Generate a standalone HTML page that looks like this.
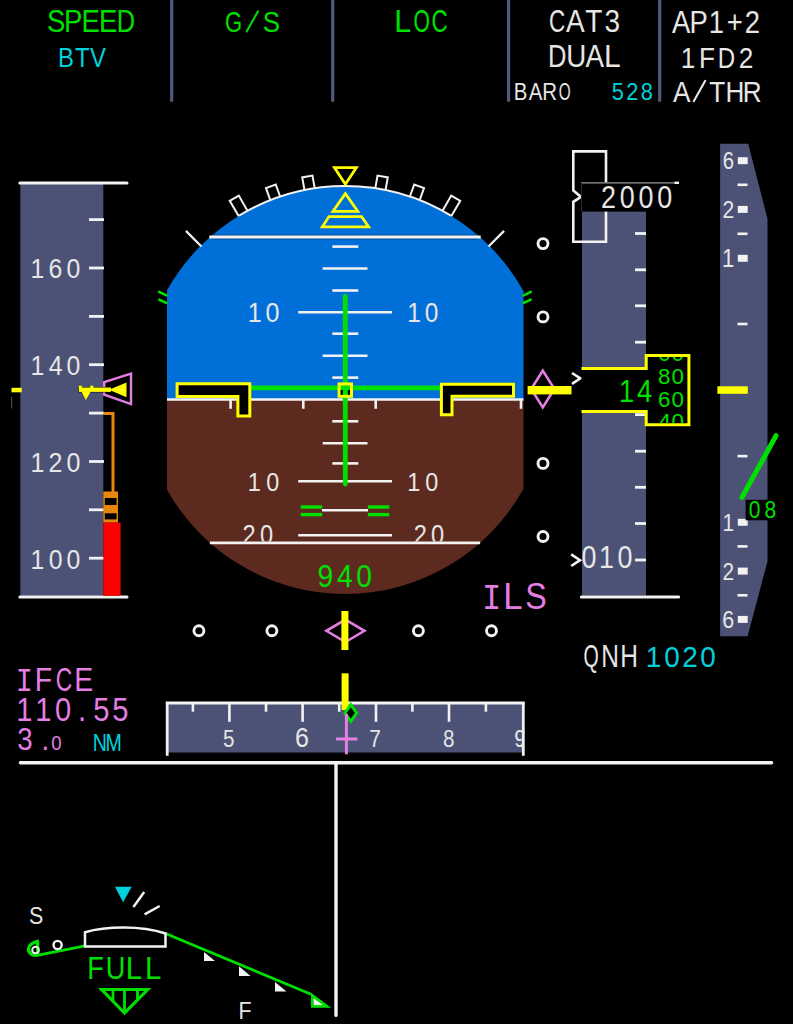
<!DOCTYPE html>
<html><head><meta charset="utf-8"><style>
html,body{margin:0;padding:0;background:#000;width:793px;height:1024px;overflow:hidden}
svg{display:block}

</style></head><body>
<svg width="793" height="1024" viewBox="0 0 793 1024">
<defs>
<clipPath id="att"><path d="M167,290.34 A204,204 0 0 1 523.5,291.24 L523.5,488.76 A204,204 0 0 1 167,489.66 Z"/></clipPath>
<clipPath id="clip20"><rect x="0" y="0" width="793" height="541.4"/></clipPath>
<clipPath id="clipdrum"><rect x="646" y="357.1" width="42" height="66.2"/></clipPath>
<clipPath id="clipscale"><rect x="167" y="690" width="356" height="70"/></clipPath>
</defs>
<line x1="171.7" y1="-2" x2="171.7" y2="100.5" stroke="#525a7c" stroke-width="3.2" stroke-linecap="round"/>
<line x1="332.7" y1="-2" x2="332.7" y2="100.5" stroke="#525a7c" stroke-width="3.2" stroke-linecap="round"/>
<line x1="508.6" y1="-2" x2="508.6" y2="100.5" stroke="#525a7c" stroke-width="3.2" stroke-linecap="round"/>
<line x1="659.7" y1="-2" x2="659.7" y2="100.5" stroke="#525a7c" stroke-width="3.2" stroke-linecap="round"/>
<rect x="20.3" y="183" width="83.00" height="412.80" fill="#4b5275"/>
<line x1="89" y1="219.6" x2="104" y2="219.6" stroke="#f2f2f2" stroke-width="2.8" stroke-linecap="butt"/>
<line x1="89" y1="268" x2="104" y2="268" stroke="#f2f2f2" stroke-width="2.8" stroke-linecap="butt"/>
<line x1="89" y1="316.4" x2="104" y2="316.4" stroke="#f2f2f2" stroke-width="2.8" stroke-linecap="butt"/>
<line x1="89" y1="364.7" x2="104" y2="364.7" stroke="#f2f2f2" stroke-width="2.8" stroke-linecap="butt"/>
<line x1="89" y1="413.1" x2="104" y2="413.1" stroke="#f2f2f2" stroke-width="2.8" stroke-linecap="butt"/>
<line x1="89" y1="461.5" x2="104" y2="461.5" stroke="#f2f2f2" stroke-width="2.8" stroke-linecap="butt"/>
<line x1="89" y1="509.8" x2="104" y2="509.8" stroke="#f2f2f2" stroke-width="2.8" stroke-linecap="butt"/>
<line x1="89" y1="558.2" x2="104" y2="558.2" stroke="#f2f2f2" stroke-width="2.8" stroke-linecap="butt"/>
<line x1="19.8" y1="183" x2="127" y2="183" stroke="#f2f2f2" stroke-width="3" stroke-linecap="round"/>
<line x1="19.8" y1="597.1" x2="127" y2="597.1" stroke="#f2f2f2" stroke-width="3" stroke-linecap="round"/>
<polyline points="103.3,413.6 113,413.6 113,492" fill="none" stroke="#e8860a" stroke-width="3"/>
<rect x="103.3" y="491.5" width="14.70" height="31.10" fill="#e8860a"/>
<rect x="104.8" y="498" width="11.80" height="7.00" fill="#000"/>
<rect x="104.8" y="513.3" width="11.80" height="6.10" fill="#000"/>
<rect x="103.3" y="522.6" width="17.30" height="73.20" fill="#ff0000"/>
<rect x="11.5" y="387.8" width="10.20" height="4.50" fill="#ffff00"/>
<line x1="11.7" y1="397" x2="11.7" y2="408.5" stroke="#555" stroke-width="1" stroke-linecap="butt"/>
<polygon points="131.00,373.60 104.20,382.20 104.20,394.60 131.00,404.10" fill="none" stroke="#e47ee4" stroke-width="2.4" stroke-linejoin="miter"/>
<rect x="78.3" y="387.0" width="32.20" height="5.40" fill="#000"/>
<rect x="78.8" y="385.7" width="3.10" height="2.30" fill="#ffff00"/>
<rect x="90.3" y="385.7" width="3.10" height="2.30" fill="#ffff00"/>
<rect x="78.8" y="387.5" width="32.20" height="4.40" fill="#ffff00"/>
<polygon points="109.00,389.70 126.50,382.60 126.50,397.20" fill="#ffff00" stroke="none" stroke-width="2.6" stroke-linejoin="miter"/>
<polygon points="81.50,391.50 90.70,391.50 85.90,399.90" fill="#ffff00" stroke="none" stroke-width="2.6" stroke-linejoin="miter"/>
<g clip-path="url(#att)">
<rect x="160" y="150" width="370.00" height="249.50" fill="#0070d8"/>
<rect x="160" y="399.5" width="370.00" height="220.50" fill="#5c2a1e"/>
</g>
<path d="M239.02,215.69 A204,204 0 0 1 450.98,215.69" fill="none" stroke="#f2f2f2" stroke-width="2"/>
<line x1="212.0666831357059" y1="237" x2="477.9333168642941" y2="237" stroke="#004a94" stroke-width="4.8" stroke-linecap="butt"/>
<line x1="209.26668313570588" y1="237" x2="480.7333168642941" y2="237" stroke="#f2f2f2" stroke-width="2.8" stroke-linecap="butt"/>
<line x1="209.8402426755656" y1="542.8" x2="480.1597573244344" y2="542.8" stroke="#f2f2f2" stroke-width="2.8" stroke-linecap="butt"/>
<line x1="167" y1="399.5" x2="523.5" y2="399.5" stroke="#f2f2f2" stroke-width="2.6" stroke-linecap="butt"/>
<line x1="230.6" y1="399.5" x2="230.6" y2="408.8" stroke="#f2f2f2" stroke-width="2.6" stroke-linecap="butt"/>
<line x1="303.3" y1="399.5" x2="303.3" y2="408.8" stroke="#f2f2f2" stroke-width="2.6" stroke-linecap="butt"/>
<line x1="375.7" y1="399.5" x2="375.7" y2="408.8" stroke="#f2f2f2" stroke-width="2.6" stroke-linecap="butt"/>
<line x1="448.3" y1="399.5" x2="448.3" y2="408.8" stroke="#f2f2f2" stroke-width="2.6" stroke-linecap="butt"/>
<line x1="521" y1="399.5" x2="521" y2="408.8" stroke="#f2f2f2" stroke-width="2.6" stroke-linecap="butt"/>
<line x1="332.3" y1="246.6" x2="358.3" y2="246.6" stroke="#f2f2f2" stroke-width="2.6" stroke-linecap="butt"/>
<line x1="322.7" y1="268.5" x2="367.5" y2="268.5" stroke="#f2f2f2" stroke-width="2.6" stroke-linecap="butt"/>
<line x1="332.3" y1="290.5" x2="358.3" y2="290.5" stroke="#f2f2f2" stroke-width="2.6" stroke-linecap="butt"/>
<line x1="298.2" y1="312.3" x2="392" y2="312.3" stroke="#f2f2f2" stroke-width="2.6" stroke-linecap="butt"/>
<line x1="332.3" y1="333.7" x2="358.3" y2="333.7" stroke="#f2f2f2" stroke-width="2.6" stroke-linecap="butt"/>
<line x1="322.7" y1="355.7" x2="367.5" y2="355.7" stroke="#f2f2f2" stroke-width="2.6" stroke-linecap="butt"/>
<line x1="332.3" y1="377.6" x2="358.3" y2="377.6" stroke="#f2f2f2" stroke-width="2.6" stroke-linecap="butt"/>
<line x1="332.3" y1="421.3" x2="358.3" y2="421.3" stroke="#f2f2f2" stroke-width="2.6" stroke-linecap="butt"/>
<line x1="322.7" y1="443.2" x2="367.5" y2="443.2" stroke="#f2f2f2" stroke-width="2.6" stroke-linecap="butt"/>
<line x1="332.3" y1="463.4" x2="358.3" y2="463.4" stroke="#f2f2f2" stroke-width="2.6" stroke-linecap="butt"/>
<line x1="298.2" y1="481.3" x2="392" y2="481.3" stroke="#f2f2f2" stroke-width="2.6" stroke-linecap="butt"/>
<line x1="322" y1="510.3" x2="368" y2="510.3" stroke="#f2f2f2" stroke-width="2.6" stroke-linecap="butt"/>
<line x1="298.2" y1="535.3" x2="392" y2="535.3" stroke="#f2f2f2" stroke-width="2.6" stroke-linecap="butt"/>
<line x1="345.3" y1="296.5" x2="345.3" y2="484" stroke="#00e000" stroke-width="4.8" stroke-linecap="round"/>
<line x1="251" y1="387.8" x2="440" y2="387.8" stroke="#00e000" stroke-width="4.8" stroke-linecap="butt"/>
<line x1="300.7" y1="507" x2="322.2" y2="507" stroke="#00e000" stroke-width="3.4" stroke-linecap="butt"/>
<line x1="367.8" y1="507" x2="389.3" y2="507" stroke="#00e000" stroke-width="3.4" stroke-linecap="butt"/>
<line x1="300.7" y1="514.6" x2="322.2" y2="514.6" stroke="#00e000" stroke-width="3.4" stroke-linecap="butt"/>
<line x1="367.8" y1="514.6" x2="389.3" y2="514.6" stroke="#00e000" stroke-width="3.4" stroke-linecap="butt"/>
<polygon points="177.10,383.70 249.80,383.70 249.80,416.00 237.90,416.00 237.90,396.60 177.10,396.60" fill="#000" stroke="#ffff00" stroke-width="3" stroke-linejoin="miter"/>
<polygon points="441.40,384.20 513.50,384.20 513.50,396.20 452.00,396.20 452.00,414.70 441.40,414.70" fill="#000" stroke="#ffff00" stroke-width="3" stroke-linejoin="miter"/>
<rect x="339.1" y="383.9" width="12.4" height="12.4" fill="#00e000" stroke="#ffff00" stroke-width="3"/>
<rect x="340.6" y="390" width="2.20" height="4.80" fill="#000"/>
<rect x="347.8" y="390" width="2.20" height="4.80" fill="#000"/>
<polyline points="238.75,216.36 229.75,200.78 238.75,195.58 247.75,211.16" fill="none" stroke="#f2f2f2" stroke-width="2"/>
<polyline points="270.51,200.55 265.96,188.05 275.74,184.50 280.29,196.99" fill="none" stroke="#f2f2f2" stroke-width="2"/>
<polyline points="304.54,190.49 302.23,177.40 312.47,175.59 314.78,188.69" fill="none" stroke="#f2f2f2" stroke-width="2"/>
<polyline points="375.22,188.69 377.53,175.59 387.77,177.40 385.46,190.49" fill="none" stroke="#f2f2f2" stroke-width="2"/>
<polyline points="409.71,196.99 414.26,184.50 424.04,188.05 419.49,200.55" fill="none" stroke="#f2f2f2" stroke-width="2"/>
<polyline points="442.25,211.16 451.25,195.58 460.25,200.78 451.25,216.36" fill="none" stroke="#f2f2f2" stroke-width="2"/>
<line x1="201.45732341913086" y1="246.45732341913083" x2="185.90097423302683" y2="230.9009742330268" stroke="#f2f2f2" stroke-width="2.2" stroke-linecap="butt"/>
<line x1="488.54267658086917" y1="246.45732341913083" x2="504.09902576697317" y2="230.9009742330268" stroke="#f2f2f2" stroke-width="2.2" stroke-linecap="butt"/>
<g stroke="#00e000" stroke-width="2.6" stroke-linecap="round">
<line x1="159.2" y1="291.9" x2="166.3" y2="295.3"/><line x1="159.4" y1="299.7" x2="166.3" y2="302.9"/>
<line x1="530.8" y1="291.9" x2="523.7" y2="295.3"/><line x1="530.6" y1="299.7" x2="523.7" y2="302.9"/>
</g>
<polygon points="334.50,167.70 356.30,167.70 345.40,184.30" fill="none" stroke="#ffff00" stroke-width="2.8" stroke-linejoin="miter"/>
<polygon points="345.40,193.60 333.00,211.30 357.80,211.30" fill="none" stroke="#ffff00" stroke-width="2.8" stroke-linejoin="miter"/>
<polygon points="329.00,216.60 361.60,216.60 368.60,226.80 322.30,226.80" fill="none" stroke="#ffff00" stroke-width="2.8" stroke-linejoin="miter"/>
<circle cx="543" cy="243.6" r="5.0" fill="none" stroke="#f2f2f2" stroke-width="2.9"/>
<circle cx="543" cy="316.9" r="5.0" fill="none" stroke="#f2f2f2" stroke-width="2.9"/>
<circle cx="543" cy="463.4" r="5.0" fill="none" stroke="#f2f2f2" stroke-width="2.9"/>
<circle cx="543" cy="536.5" r="5.0" fill="none" stroke="#f2f2f2" stroke-width="2.9"/>
<polygon points="542.80,370.60 554.40,389.00 542.80,407.40 531.20,389.00" fill="none" stroke="#e47ee4" stroke-width="2.6" stroke-linejoin="miter"/>
<rect x="527.6" y="386" width="43.90" height="8.40" fill="#ffff00"/>
<polyline points="572,373 580.3,378.3 572,383.8" fill="none" stroke="#f2f2f2" stroke-width="2.6"/>
<circle cx="198.9" cy="630.8" r="5.0" fill="none" stroke="#f2f2f2" stroke-width="2.9"/>
<circle cx="271.9" cy="630.8" r="5.0" fill="none" stroke="#f2f2f2" stroke-width="2.9"/>
<circle cx="418.4" cy="630.8" r="5.0" fill="none" stroke="#f2f2f2" stroke-width="2.9"/>
<circle cx="491.5" cy="630.8" r="5.0" fill="none" stroke="#f2f2f2" stroke-width="2.9"/>
<polygon points="345.40,619.60 364.40,630.80 345.40,642.00 326.40,630.80" fill="none" stroke="#e47ee4" stroke-width="2.6" stroke-linejoin="miter"/>
<rect x="341.4" y="611" width="7.00" height="39.00" fill="#ffff00"/>
<rect x="582" y="211.5" width="64.00" height="384.10" fill="#4b5275"/>
<line x1="635" y1="233.5" x2="646" y2="233.5" stroke="#f2f2f2" stroke-width="2.8" stroke-linecap="butt"/>
<line x1="635" y1="269.8" x2="646" y2="269.8" stroke="#f2f2f2" stroke-width="2.8" stroke-linecap="butt"/>
<line x1="635" y1="305.8" x2="646" y2="305.8" stroke="#f2f2f2" stroke-width="2.8" stroke-linecap="butt"/>
<line x1="635" y1="342.2" x2="646" y2="342.2" stroke="#f2f2f2" stroke-width="2.8" stroke-linecap="butt"/>
<line x1="635" y1="378.4" x2="646" y2="378.4" stroke="#f2f2f2" stroke-width="2.8" stroke-linecap="butt"/>
<line x1="635" y1="414.6" x2="646" y2="414.6" stroke="#f2f2f2" stroke-width="2.8" stroke-linecap="butt"/>
<line x1="635" y1="451.2" x2="646" y2="451.2" stroke="#f2f2f2" stroke-width="2.8" stroke-linecap="butt"/>
<line x1="635" y1="487.3" x2="646" y2="487.3" stroke="#f2f2f2" stroke-width="2.8" stroke-linecap="butt"/>
<line x1="635" y1="523.5" x2="646" y2="523.5" stroke="#f2f2f2" stroke-width="2.8" stroke-linecap="butt"/>
<line x1="635" y1="560" x2="646" y2="560" stroke="#f2f2f2" stroke-width="2.8" stroke-linecap="butt"/>
<path d="M606,182.5 V151.4 H573.3 V190.5 L581,196.9 L573.3,201.8 V241.8 H606 V211.5" fill="none" stroke="#f2f2f2" stroke-width="2.6"/>
<rect x="581" y="182.8" width="98.00" height="28.50" fill="#000"/>
<line x1="581" y1="182.8" x2="676" y2="182.8" stroke="#9a9a9a" stroke-width="1.2" stroke-linecap="butt"/>
<rect x="674.5" y="181.6" width="4.50" height="2.40" fill="#f2f2f2"/>
<line x1="581.4" y1="183" x2="581.4" y2="211" stroke="#2a2a2a" stroke-width="1" stroke-linecap="butt"/>
<line x1="581.3" y1="597.1" x2="678.7" y2="597.1" stroke="#f2f2f2" stroke-width="3" stroke-linecap="round"/>
<polyline points="571.2,554.4 580,560.2 571.2,566" fill="none" stroke="#f2f2f2" stroke-width="2.6"/>
<path d="M581.5,368.4 H646.2 V355.6 H688.9 V424.8 H646.2 V411.6 H581.5 Z" fill="#000" stroke="none"/>
<path d="M581.5,368.4 H646.2 V355.6 H688.9 V424.8 H646.2 V411.6 H581.5" fill="none" stroke="#ffff00" stroke-width="3"/>
<polygon points="720.10,143.80 748.20,143.80 767.50,218.80 767.50,561.40 747.60,636.30 720.10,636.30" fill="#4b5275" stroke="none" stroke-width="2.6" stroke-linejoin="miter"/>
<rect x="737.8" y="157.2" width="9.90" height="7.00" fill="#f2f2f2"/>
<rect x="737.8" y="205.9" width="9.90" height="7.00" fill="#f2f2f2"/>
<rect x="737.8" y="254.8" width="9.90" height="7.00" fill="#f2f2f2"/>
<rect x="737.8" y="518.8" width="9.90" height="7.00" fill="#f2f2f2"/>
<rect x="737.8" y="567.6" width="9.90" height="7.00" fill="#f2f2f2"/>
<rect x="737.8" y="615.9" width="9.90" height="7.00" fill="#f2f2f2"/>
<line x1="737.5" y1="184.8" x2="747.5" y2="184.8" stroke="#f2f2f2" stroke-width="2.6" stroke-linecap="butt"/>
<line x1="737.5" y1="233.8" x2="747.5" y2="233.8" stroke="#f2f2f2" stroke-width="2.6" stroke-linecap="butt"/>
<line x1="737.5" y1="324" x2="747.5" y2="324" stroke="#f2f2f2" stroke-width="2.6" stroke-linecap="butt"/>
<line x1="737.5" y1="456.1" x2="747.5" y2="456.1" stroke="#f2f2f2" stroke-width="2.6" stroke-linecap="butt"/>
<line x1="737.5" y1="546.4" x2="747.5" y2="546.4" stroke="#f2f2f2" stroke-width="2.6" stroke-linecap="butt"/>
<line x1="737.5" y1="595.3" x2="747.5" y2="595.3" stroke="#f2f2f2" stroke-width="2.6" stroke-linecap="butt"/>
<rect x="717.4" y="386.3" width="30.40" height="7.50" fill="#ffff00"/>
<line x1="776" y1="435.7" x2="741.9" y2="497.5" stroke="#00e000" stroke-width="5" stroke-linecap="round"/>
<rect x="745.6" y="499.8" width="33.40" height="20.50" fill="#000"/>
<rect x="167.2" y="703" width="356.10" height="49.50" fill="#4b5275"/>
<line x1="165.8" y1="703" x2="524.7" y2="703" stroke="#f2f2f2" stroke-width="2.8" stroke-linecap="butt"/>
<line x1="167.2" y1="703" x2="167.2" y2="755.8" stroke="#f2f2f2" stroke-width="2.8" stroke-linecap="butt"/>
<line x1="523.3" y1="703" x2="523.3" y2="755.8" stroke="#f2f2f2" stroke-width="2.8" stroke-linecap="butt"/>
<line x1="192.9" y1="703" x2="192.9" y2="711.7" stroke="#f2f2f2" stroke-width="2.6" stroke-linecap="butt"/>
<line x1="229.4" y1="703" x2="229.4" y2="721.8" stroke="#f2f2f2" stroke-width="2.6" stroke-linecap="butt"/>
<line x1="266" y1="703" x2="266" y2="711.7" stroke="#f2f2f2" stroke-width="2.6" stroke-linecap="butt"/>
<line x1="302.6" y1="703" x2="302.6" y2="721.8" stroke="#f2f2f2" stroke-width="2.6" stroke-linecap="butt"/>
<line x1="339.2" y1="703" x2="339.2" y2="711.7" stroke="#f2f2f2" stroke-width="2.6" stroke-linecap="butt"/>
<line x1="376" y1="703" x2="376" y2="721.8" stroke="#f2f2f2" stroke-width="2.6" stroke-linecap="butt"/>
<line x1="412.4" y1="703" x2="412.4" y2="711.7" stroke="#f2f2f2" stroke-width="2.6" stroke-linecap="butt"/>
<line x1="449" y1="703" x2="449" y2="721.8" stroke="#f2f2f2" stroke-width="2.6" stroke-linecap="butt"/>
<line x1="485.9" y1="703" x2="485.9" y2="711.7" stroke="#f2f2f2" stroke-width="2.6" stroke-linecap="butt"/>
<rect x="341.6" y="673.3" width="7.00" height="36.70" fill="#ffff00"/>
<polygon points="350.80,704.60 356.60,713.00 350.80,721.40 345.00,713.00" fill="#000" stroke="#00e000" stroke-width="3" stroke-linejoin="miter"/>
<line x1="346.4" y1="714" x2="346.4" y2="754.3" stroke="#e47ee4" stroke-width="3" stroke-linecap="butt"/>
<line x1="336" y1="739" x2="357.4" y2="739" stroke="#e47ee4" stroke-width="3" stroke-linecap="butt"/>
<line x1="20.4" y1="762.8" x2="771.6" y2="762.8" stroke="#f2f2f2" stroke-width="3.4" stroke-linecap="round"/>
<line x1="336" y1="762.8" x2="336" y2="1015.4" stroke="#f2f2f2" stroke-width="3.4" stroke-linecap="round"/>
<line x1="133.4" y1="907.1" x2="144.2" y2="892" stroke="#f2f2f2" stroke-width="2.5" stroke-linecap="butt"/>
<line x1="144.6" y1="914.3" x2="159.7" y2="906" stroke="#f2f2f2" stroke-width="2.5" stroke-linecap="butt"/>
<polygon points="115.00,886.80 131.70,886.80 123.10,902.30" fill="#00d2dc" stroke="none" stroke-width="2.6" stroke-linejoin="miter"/>
<path d="M35.8,955.6 L85,945.8 M165.5,933.5 L311,994.3" fill="none" stroke="#00e000" stroke-width="2.8"/>
<path d="M85,946.6 V932.2 C105,926.5 140,925 165.5,933.5 V946.6 Z" fill="#000" stroke="#f2f2f2" stroke-width="2.5"/>
<path d="M36,955.3 C31,955.5 28,952 28.6,948.3 C29.3,944.5 33,942.5 37.5,941.3 L37.8,954.9" fill="none" stroke="#00e000" stroke-width="3.4" stroke-linejoin="round"/>
<circle cx="35.5" cy="950" r="3.3" fill="none" stroke="#f2f2f2" stroke-width="2"/>
<circle cx="57.6" cy="945" r="4.1" fill="none" stroke="#f2f2f2" stroke-width="2.4"/>
<polygon points="204.00,952.00 204.00,961.00 215.00,961.00" fill="#f2f2f2" stroke="none" stroke-width="2.6" stroke-linejoin="miter"/>
<polygon points="239.00,966.30 239.00,975.90 250.60,975.90" fill="#f2f2f2" stroke="none" stroke-width="2.6" stroke-linejoin="miter"/>
<polygon points="275.00,981.90 275.00,991.50 286.50,991.50" fill="#f2f2f2" stroke="none" stroke-width="2.6" stroke-linejoin="miter"/>
<polygon points="312.40,995.50 312.40,1006.30 327.00,1006.30" fill="#f2f2f2" stroke="#00e000" stroke-width="2.8" stroke-linejoin="miter"/>
<polygon points="101.50,989.40 147.80,989.40 124.50,1013.00" fill="none" stroke="#00e000" stroke-width="3" stroke-linejoin="miter"/>
<path d="M113,989.4 V1001 M124.5,989.4 V1013 M137.5,989.4 V1001" stroke="#00e000" stroke-width="2.8"/>
<g font-family="Liberation Sans" font-size="31.25" fill="#00e000"><text transform="translate(46.90,32.19) scale(0.880,1)">S</text><text transform="translate(64.06,32.19) scale(0.880,1)">P</text><text transform="translate(81.50,32.19) scale(0.880,1)">E</text><text transform="translate(99.07,32.19) scale(0.880,1)">E</text><text transform="translate(116.80,32.19) scale(0.810,1)">D</text></g>
<g font-family="Liberation Sans" font-size="27.14" fill="#00d2dc"><text transform="translate(58.09,66.73) scale(0.880,1)">B</text><text transform="translate(74.94,66.73) scale(0.880,1)">T</text><text transform="translate(90.00,66.73) scale(0.880,1)">V</text></g>
<g font-family="Liberation Sans" font-size="29.46" fill="#00e000"><text transform="translate(224.90,32.01) scale(0.748,1)">G</text><line x1="246.64" y1="31.50" x2="257.98" y2="11.30" stroke="#00e000" stroke-width="2.1" stroke-linecap="round"/><text transform="translate(262.67,32.01) scale(0.880,1)">S</text></g>
<g font-family="Liberation Sans" font-size="31.97" fill="#00e000"><text transform="translate(394.17,32.38) scale(0.950,1)">L</text><text transform="translate(413.49,32.38) scale(0.660,1)">O</text><text transform="translate(431.47,32.38) scale(0.704,1)">C</text></g>
<g font-family="Liberation Sans" font-size="31.83" fill="#e6e6e6"><text transform="translate(548.88,32.48) scale(0.704,1)">C</text><text transform="translate(566.11,32.48) scale(0.880,1)">A</text><text transform="translate(585.27,32.48) scale(0.880,1)">T</text><text transform="translate(604.43,32.48) scale(0.880,1)">3</text></g>
<g font-family="Liberation Sans" font-size="31.57" fill="#e6e6e6"><text transform="translate(547.96,67.08) scale(0.810,1)">D</text><text transform="translate(566.19,67.08) scale(0.880,1)">U</text><text transform="translate(585.41,67.08) scale(0.880,1)">A</text><text transform="translate(604.10,67.08) scale(0.950,1)">L</text></g>
<g font-family="Liberation Sans" font-size="23.24" fill="#e6e6e6"><text transform="translate(513.86,100.27) scale(0.880,1)">B</text><text transform="translate(528.73,100.27) scale(0.880,1)">A</text><text transform="translate(542.37,100.27) scale(0.880,1)">R</text><text transform="translate(558.80,100.27) scale(0.660,1)">O</text></g>
<g font-family="Liberation Sans" font-size="24.79" fill="#00d2dc"><text transform="translate(611.83,100.35) scale(0.880,1)">5</text><text transform="translate(626.24,100.35) scale(0.880,1)">2</text><text transform="translate(640.66,100.35) scale(0.880,1)">8</text></g>
<g font-family="Liberation Sans" font-size="31.14" fill="#e6e6e6"><text transform="translate(672.00,32.50) scale(0.880,1)">A</text><text transform="translate(689.39,32.50) scale(0.880,1)">P</text><text transform="translate(708.84,32.50) scale(0.880,1)">1</text><text transform="translate(726.65,32.50) scale(0.880,1)">+</text><text transform="translate(744.72,32.50) scale(0.880,1)">2</text></g>
<g font-family="Liberation Sans" font-size="29.71" fill="#e6e6e6"><text transform="translate(680.87,68.00) scale(0.880,1)">1</text><text transform="translate(699.00,68.00) scale(0.880,1)">F</text><text transform="translate(717.67,68.00) scale(0.810,1)">D</text><text transform="translate(738.66,68.00) scale(0.880,1)">2</text></g>
<g font-family="Liberation Sans" font-size="29.73" fill="#e6e6e6"><text transform="translate(673.00,101.70) scale(0.880,1)">A</text><line x1="693.77" y1="101.20" x2="705.21" y2="80.80" stroke="#e6e6e6" stroke-width="2.1" stroke-linecap="round"/><text transform="translate(709.23,101.70) scale(0.880,1)">T</text><text transform="translate(725.38,101.70) scale(0.880,1)">H</text><text transform="translate(742.71,101.70) scale(0.880,1)">R</text></g>
<g font-family="Liberation Sans" font-size="28.17" fill="#e6e6e6"><text transform="translate(30.56,277.72) scale(0.880,1)">1</text><text transform="translate(48.53,277.72) scale(0.880,1)">6</text><text transform="translate(66.61,277.72) scale(0.880,1)">0</text></g>
<g font-family="Liberation Sans" font-size="28.17" fill="#e6e6e6"><text transform="translate(30.56,374.72) scale(0.880,1)">1</text><text transform="translate(48.77,374.72) scale(0.880,1)">4</text><text transform="translate(66.61,374.72) scale(0.880,1)">0</text></g>
<g font-family="Liberation Sans" font-size="28.45" fill="#e6e6e6"><text transform="translate(30.55,471.72) scale(0.880,1)">1</text><text transform="translate(48.58,471.72) scale(0.880,1)">2</text><text transform="translate(66.48,471.72) scale(0.880,1)">0</text></g>
<g font-family="Liberation Sans" font-size="28.17" fill="#e6e6e6"><text transform="translate(30.56,568.72) scale(0.880,1)">1</text><text transform="translate(48.77,568.72) scale(0.880,1)">0</text><text transform="translate(66.61,568.72) scale(0.880,1)">0</text></g>
<g font-family="Liberation Sans" font-size="28.45" fill="#e6e6e6"><text transform="translate(247.75,321.82) scale(0.880,1)">1</text><text transform="translate(265.48,321.82) scale(0.880,1)">0</text></g>
<g font-family="Liberation Sans" font-size="27.75" fill="#e6e6e6"><text transform="translate(407.29,322.12) scale(0.880,1)">1</text><text transform="translate(424.80,322.12) scale(0.880,1)">0</text></g>
<g font-family="Liberation Sans" font-size="26.62" fill="#e6e6e6"><text transform="translate(247.86,491.13) scale(0.880,1)">1</text><text transform="translate(266.32,491.13) scale(0.880,1)">0</text></g>
<g font-family="Liberation Sans" font-size="26.62" fill="#e6e6e6"><text transform="translate(407.36,491.13) scale(0.880,1)">1</text><text transform="translate(425.32,491.13) scale(0.880,1)">0</text></g>
<g clip-path="url(#clip20)" font-family="Liberation Sans" font-size="26.90" fill="#e6e6e6"><text transform="translate(242.52,544.23) scale(0.880,1)">2</text><text transform="translate(259.89,544.23) scale(0.880,1)">0</text></g>
<g clip-path="url(#clip20)" font-family="Liberation Sans" font-size="26.90" fill="#e6e6e6"><text transform="translate(413.82,544.23) scale(0.880,1)">2</text><text transform="translate(431.09,544.23) scale(0.880,1)">0</text></g>
<g font-family="Liberation Sans" font-size="32.11" fill="#00e000"><text transform="translate(317.47,587.08) scale(0.880,1)">9</text><text transform="translate(336.89,587.08) scale(0.880,1)">4</text><text transform="translate(356.31,587.08) scale(0.880,1)">0</text></g>
<g font-family="Liberation Sans" font-size="36.53" fill="#e47ee4"><text transform="translate(481.91,609.33) scale(0.880,1)" font-family="Liberation Mono">I</text><text transform="translate(503.20,609.33) scale(0.950,1)">L</text><text transform="translate(525.25,609.33) scale(0.880,1)">S</text></g>
<g font-family="Liberation Sans" font-size="30.56" fill="#e6e6e6"><text transform="translate(601.06,207.69) scale(0.880,1)">2</text><text transform="translate(619.86,207.69) scale(0.880,1)">0</text><text transform="translate(638.54,207.69) scale(0.880,1)">0</text><text transform="translate(657.21,207.69) scale(0.880,1)">0</text></g>
<g font-family="Liberation Sans" font-size="31.00" fill="#00e000"><text transform="translate(618.89,401.50) scale(0.880,1)">1</text><text transform="translate(637.04,401.50) scale(0.880,1)">4</text></g>
<g clip-path="url(#clipdrum)" font-family="Liberation Sans" font-size="21.27" fill="#00e000"><text transform="translate(658.33,361.09) scale(1.050,1)">0</text><text transform="translate(671.49,361.09) scale(1.050,1)">0</text></g>
<g clip-path="url(#clipdrum)" font-family="Liberation Sans" font-size="21.27" fill="#00e000"><text transform="translate(658.11,384.39) scale(1.050,1)">8</text><text transform="translate(671.49,384.39) scale(1.050,1)">0</text></g>
<g clip-path="url(#clipdrum)" font-family="Liberation Sans" font-size="21.27" fill="#00e000"><text transform="translate(657.88,406.99) scale(1.050,1)">6</text><text transform="translate(671.49,406.99) scale(1.050,1)">0</text></g>
<g clip-path="url(#clipdrum)" font-family="Liberation Sans" font-size="21.27" fill="#00e000"><text transform="translate(658.55,429.49) scale(1.050,1)">4</text><text transform="translate(671.49,429.49) scale(1.050,1)">0</text></g>
<g font-family="Liberation Sans" font-size="30.56" fill="#e6e6e6"><text transform="translate(581.39,568.39) scale(0.880,1)">0</text><text transform="translate(599.00,568.39) scale(0.880,1)">1</text><text transform="translate(617.41,568.39) scale(0.880,1)">0</text></g>
<g font-family="Liberation Sans" font-size="30.58" fill="#e6e6e6"><text transform="translate(583.62,667.10) scale(0.640,1)">Q</text><text transform="translate(601.26,667.10) scale(0.800,1)">N</text><text transform="translate(620.30,667.10) scale(0.800,1)">H</text></g>
<g font-family="Liberation Sans" font-size="30.42" fill="#00d2dc"><text transform="translate(645.74,667.00) scale(0.920,1)">1</text><text transform="translate(664.22,667.00) scale(0.920,1)">0</text><text transform="translate(682.14,667.00) scale(0.920,1)">2</text><text transform="translate(700.35,667.00) scale(0.920,1)">0</text></g>
<g font-family="Liberation Sans" font-size="23.10" fill="#e6e6e6"><text transform="translate(722.66,168.57) scale(0.880,1)">6</text></g>
<g font-family="Liberation Sans" font-size="24.00" fill="#e6e6e6"><text transform="translate(722.54,218.30) scale(0.880,1)">2</text></g>
<g font-family="Liberation Sans" font-size="25.07" fill="#e6e6e6"><text transform="translate(722.10,267.00) scale(0.880,1)">1</text></g>
<g font-family="Liberation Sans" font-size="23.77" fill="#e6e6e6"><text transform="translate(722.43,530.60) scale(0.880,1)">1</text></g>
<g font-family="Liberation Sans" font-size="23.71" fill="#e6e6e6"><text transform="translate(722.61,580.00) scale(0.880,1)">2</text></g>
<g font-family="Liberation Sans" font-size="24.37" fill="#e6e6e6"><text transform="translate(722.34,627.76) scale(0.880,1)">6</text></g>
<g font-family="Liberation Sans" font-size="23.80" fill="#00e000"><text transform="translate(748.67,518.46) scale(0.880,1)">0</text><text transform="translate(764.61,518.46) scale(0.880,1)">8</text></g>
<g font-family="Liberation Sans" font-size="32.39" fill="#e47ee4"><text transform="translate(15.63,690.78) scale(0.880,1)" font-family="Liberation Mono">I</text><text transform="translate(34.84,690.78) scale(0.880,1)">F</text><text transform="translate(55.86,690.78) scale(0.704,1)">C</text><text transform="translate(74.24,690.78) scale(0.880,1)">E</text></g>
<g font-family="Liberation Sans" font-size="33.10" fill="#e47ee4"><text transform="translate(16.16,720.77) scale(0.880,1)">1</text><text transform="translate(35.34,720.77) scale(0.880,1)">1</text><text transform="translate(54.96,720.77) scale(0.880,1)">0</text><text transform="translate(78.07,720.77) scale(0.880,1)">.</text><text transform="translate(93.17,720.77) scale(0.880,1)">5</text><text transform="translate(112.35,720.77) scale(0.880,1)">5</text></g>
<g font-family="Liberation Sans" font-size="31.41" fill="#e47ee4"><text transform="translate(17.37,750.19) scale(0.880,1)">3</text><text transform="translate(41.45,750.19) scale(0.880,1)">.</text></g>
<g font-family="Liberation Sans" font-size="21.13" fill="#e47ee4"><text transform="translate(51.19,749.79) scale(0.880,1)">0</text></g>
<g font-family="Liberation Sans" font-size="23.04" fill="#00d2dc"><text transform="translate(92.73,750.50) scale(0.850,1)">N</text><text transform="translate(105.61,750.50) scale(0.850,1)">M</text></g>
<g font-family="Liberation Sans" font-size="23.43" fill="#e6e6e6"><text transform="translate(223.03,746.77) scale(0.880,1)">5</text></g>
<g font-family="Liberation Sans" font-size="28.45" fill="#e6e6e6"><text transform="translate(295.06,746.72) scale(0.880,1)">6</text></g>
<g font-family="Liberation Sans" font-size="23.86" fill="#e6e6e6"><text transform="translate(369.37,747.40) scale(0.880,1)">7</text></g>
<g font-family="Liberation Sans" font-size="23.52" fill="#e6e6e6"><text transform="translate(442.90,747.16) scale(0.880,1)">8</text></g>
<g clip-path="url(#clipscale)" font-family="Liberation Sans" font-size="23.52" fill="#e6e6e6"><text transform="translate(514.31,747.16) scale(0.880,1)">9</text></g>
<g font-family="Liberation Sans" font-size="24.31" fill="#e6e6e6"><text transform="translate(29.03,924.36) scale(0.880,1)">S</text></g>
<g font-family="Liberation Sans" font-size="30.86" fill="#00e000"><text transform="translate(87.33,978.69) scale(0.880,1)">F</text><text transform="translate(105.72,978.69) scale(0.880,1)">U</text><text transform="translate(125.75,978.69) scale(0.950,1)">L</text><text transform="translate(144.96,978.69) scale(0.950,1)">L</text></g>
<g font-family="Liberation Sans" font-size="24.35" fill="#e6e6e6"><text transform="translate(238.53,1019.00) scale(0.880,1)">F</text></g>
</svg>
</body></html>
